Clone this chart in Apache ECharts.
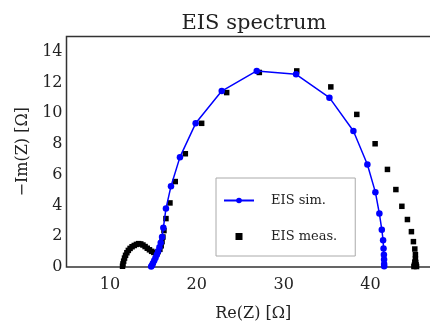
<!DOCTYPE html>
<html>
<head>
<meta charset="utf-8">
<script src="https://cdn.jsdelivr.net/npm/echarts@6/dist/echarts.min.js"></script>
<style>
  html, body { margin: 0; padding: 0; background: #fff; }
  #chart { width: 430px; height: 323px; }
</style>
</head>
<body>
<div id="chart"></div>
<script>
// simulated spectrum (blue line + circles)
const simRe = [14.75, 14.85, 14.95, 15.1, 15.25, 15.4, 15.55, 15.7, 15.85, 16.0, 16.15, 16.45, 17.03, 18.06, 19.87, 22.87, 26.9, 31.43, 35.27, 38.03, 39.64, 40.56, 41.02, 41.3, 41.45, 41.5, 41.54, 41.56, 41.57, 41.57];
const simIm = [0.03, 0.12, 0.25, 0.42, 0.6, 0.8, 1.02, 1.28, 1.58, 1.95, 2.55, 3.8, 5.26, 7.15, 9.35, 11.45, 12.76, 12.54, 11.02, 8.85, 6.67, 4.87, 3.48, 2.43, 1.74, 1.21, 0.8, 0.48, 0.2, 0.05];

// measured spectrum (black squares)
const measRe = [11.45, 11.5, 11.58, 11.68, 11.8, 11.95, 12.12, 12.32, 12.55, 12.8, 13.05, 13.3, 13.55, 13.8, 14.05, 14.3, 14.55, 14.8, 15.05, 15.3, 15.55, 15.75, 15.9, 16.0, 16.1, 16.22, 16.45, 16.91, 17.52, 18.68, 20.56, 23.44, 27.2, 31.51, 35.43, 38.42, 40.53, 41.95, 42.92, 43.61, 44.25, 44.71, 44.94, 45.1, 45.17, 45.17, 45.1, 45.2, 45.05, 45.25, 45.3, 45.0];
const measIm = [0.05, 0.2, 0.38, 0.58, 0.76, 0.93, 1.08, 1.21, 1.32, 1.4, 1.47, 1.52, 1.5, 1.43, 1.33, 1.22, 1.12, 1.02, 0.95, 0.93, 1.0, 1.15, 1.38, 1.65, 1.95, 2.37, 3.15, 4.17, 5.56, 7.37, 9.35, 11.35, 12.66, 12.76, 11.72, 9.93, 8.02, 6.35, 5.04, 3.95, 3.09, 2.3, 1.65, 1.17, 0.8, 0.52, 0.32, 0.3, 0.12, 0.14, 0.03, 0.03];

const xTicks = [10, 20, 30, 40];
const yTicks = [0, 2, 4, 6, 8, 10, 12, 14];

const FONT = '"DejaVu Serif", serif';
const TEXT = '#222';

const chart = echarts.init(document.getElementById('chart'));

chart.setOption({
  animation: false,
  title: {
    text: 'EIS spectrum',
    left: 249,
    textAlign: 'center',
    top: 8,
    textStyle: { fontFamily: FONT, fontSize: 21, fontWeight: 'normal', color: TEXT }
  },
  grid: {
    left: 66.5,
    top: 36.5,
    bottom: 56,
    right: -10,
    outerBoundsMode: 'none',
    containLabel: false,
    show: true,
    borderColor: '#333',
    borderWidth: 1.5
  },
  legend: {
    orient: 'vertical',
    left: 216,
    top: 178,
    selectedMode: false,
    itemWidth: 30,
    itemHeight: 7,
    itemGap: 23,
    symbolKeepAspect: true,
    padding: [16, 18, 13, 7],
    borderColor: '#aaa',
    borderWidth: 1,
    backgroundColor: '#fff',
    textStyle: { fontFamily: FONT, fontSize: 13, color: TEXT, padding: [0, 0, 0, 12] },
    data: [
      { name: 'EIS sim.' },
      { name: 'EIS meas.', icon: 'path://M0,0h10v10h-10z', itemStyle: { color: '#000', opacity: 1 } }
    ]
  },
  xAxis: {
    type: 'value',
    min: 5,
    max: 48,
    interval: 5,
    name: 'Re(Z) [Ω]',
    nameLocation: 'middle',
    nameGap: 39,
    nameTextStyle: { fontFamily: FONT, fontSize: 16, color: TEXT },
    axisLine: { show: false },
    axisTick: { show: false },
    splitLine: { show: false },
    axisLabel: {
      fontFamily: FONT, fontSize: 16, color: TEXT, margin: 10,
      formatter: v => xTicks.includes(v) ? String(v) : ''
    }
  },
  yAxis: {
    type: 'value',
    min: 0,
    max: 15,
    interval: 1,
    name: '−Im(Z) [Ω]',
    nameLocation: 'middle',
    nameGap: 36,
    nameTextStyle: { fontFamily: FONT, fontSize: 16, color: TEXT },
    axisLine: { show: false },
    axisTick: { show: false },
    splitLine: { show: false },
    axisLabel: {
      fontFamily: FONT, fontSize: 16, color: TEXT, margin: 4,
      formatter: v => yTicks.includes(v) ? String(v) : ''
    }
  },
  series: [
    {
      name: 'EIS sim.',
      type: 'line',
      data: simRe.map((x, i) => [x, simIm[i]]),
      symbol: 'circle',
      symbolSize: 6.5,
      showAllSymbol: true,
      lineStyle: { color: '#0000ff', width: 1.5 },
      itemStyle: { color: '#0000ff' }
    },
    {
      name: 'EIS meas.',
      type: 'scatter',
      data: measRe.map((x, i) => [x, measIm[i]]),
      symbol: 'rect',
      symbolSize: 5.5,
      itemStyle: { color: '#000', opacity: 1 }
    }
  ]
});
</script>
</body>
</html>
